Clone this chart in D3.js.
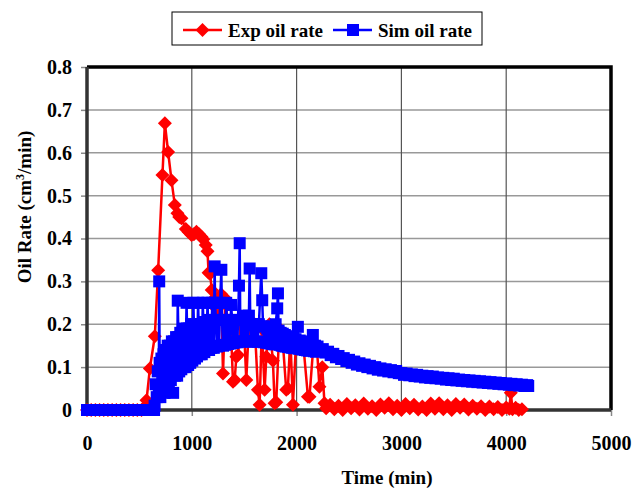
<!DOCTYPE html>
<html>
<head>
<meta charset="utf-8">
<script src="https://cdn.jsdelivr.net/npm/d3@7"></script>
<style>
body {margin:0; background:#fff;}
text {font-family:"Liberation Serif","Times New Roman",serif; font-weight:bold; fill:#000;}
</style>
</head>
<body>
<div id="chart-area"></div>
<script>
// tick labels
var xTicks = [0, 1000, 2000, 3000, 4000, 5000];
var yTicks = [0, 0.1, 0.2, 0.3, 0.4, 0.5, 0.6, 0.7, 0.8];
var yTickLabels = ["0", "0.1", "0.2", "0.3", "0.4", "0.5", "0.6", "0.7", "0.8"];

// experiment (min, cm3/min)
var expTime = [0, 40, 80, 120, 160, 200, 240, 280, 320, 360, 400, 440, 480, 520, 545, 568, 600, 647,
	679, 720, 743, 774, 806, 838, 863, 880, 901, 943, 970, 997, 1020, 1044, 1070, 1092, 1110, 1133,
	1150, 1160, 1175, 1190, 1215, 1240, 1265, 1280, 1298, 1320, 1345, 1370, 1393, 1409, 1425, 1441,
	1465, 1495, 1520, 1545, 1570, 1600, 1631, 1647, 1668, 1695, 1711, 1740, 1774, 1790, 1806, 1835,
	1865, 1901, 1917, 1940, 1965, 1995, 2030, 2065, 2108, 2123, 2160, 2195, 2218, 2245, 2266, 2282,
	2320, 2360, 2400, 2440, 2480, 2520, 2560, 2600, 2640, 2680, 2720, 2760, 2800, 2840, 2880, 2920,
	2960, 3000, 3040, 3080, 3120, 3160, 3200, 3240, 3280, 3320, 3360, 3400, 3440, 3480, 3520, 3560,
	3600, 3640, 3680, 3720, 3760, 3800, 3840, 3880, 3920, 3960, 4000, 4030, 4044, 4060, 4090, 4120, 4150];
var expRate = [0, 0, 0, 0, 0, 0, 0, 0, 0, 0, 0, 0, 0, 0, 0.005, 0.023, 0.097, 0.172,
	0.326, 0.548, 0.669, 0.602, 0.536, 0.478, 0.459, 0.45, 0.447, 0.422, 0.415, 0.408, 0.41, 0.416, 0.41, 0.404, 0.398, 0.385,
	0.37, 0.32, 0.318, 0.28, 0.26, 0.235, 0.25, 0.27, 0.085, 0.26, 0.2, 0.21, 0.066, 0.07, 0.124, 0.128,
	0.2, 0.21, 0.07, 0.2, 0.18, 0.2, 0.047, 0.012, 0.19, 0.047, 0.124, 0.2, 0.115, 0.016, 0.018, 0.19,
	0.17, 0.047, 0.05, 0.17, 0.012, 0.16, 0.155, 0.15, 0.031, 0.031, 0.15, 0.14, 0.054, 0.1, 0.016, 0.004,
	0.012, 0.002, 0.01, 0, 0.014, 0.004, 0.011, 0.001, 0.015, 0.003, 0.009, 0, 0.013, 0.005, 0.016, 0.002,
	0.01, 0, 0.014, 0.004, 0.012, 0.001, 0.008, 0, 0.015, 0.003, 0.016, 0.002, 0.011, 0, 0.014, 0.005,
	0.013, 0.001, 0.01, 0.003, 0.009, 0, 0.008, 0.002, 0.007, 0, 0.006, 0.003, 0.04, 0.002, 0.005, 0, 0.002];

// simulation (min, cm3/min)
var simTime = [0, 40, 80, 120, 160, 200, 240, 280, 320, 360, 400, 440, 480, 520, 560, 600, 640,
	645, 655, 665, 675, 685, 689, 693, 700, 710, 720, 730, 740, 750, 760, 770, 780, 790, 800,
	810, 822, 830, 840, 850, 860, 866, 872, 880, 890, 900, 910, 920, 930, 940, 950, 955, 965,
	975, 985, 995, 1005, 1015, 1020, 1030, 1040, 1050, 1060, 1065, 1075, 1085, 1095, 1105, 1110,
	1120, 1130, 1140, 1150, 1155, 1165, 1175, 1185, 1195, 1200, 1210, 1218, 1222, 1230, 1240, 1250,
	1260, 1270, 1282, 1288, 1298, 1308, 1318, 1328, 1335, 1345, 1355, 1365, 1375, 1385, 1395, 1405,
	1415, 1425, 1435, 1450, 1457, 1462, 1472, 1482, 1492, 1502, 1512, 1522, 1532, 1545, 1552, 1558,
	1568, 1578, 1588, 1598, 1608, 1618, 1628, 1640, 1663, 1672, 1680, 1690, 1700, 1710, 1720, 1730,
	1740, 1750, 1760, 1770, 1780, 1790, 1800, 1815, 1822, 1828, 1838, 1848, 1858, 1868, 1878, 1888,
	1898, 1908, 1918, 1928, 1938, 1948, 1958, 1968, 1978, 1990, 2012, 2020, 2030, 2040, 2050, 2060,
	2070, 2080, 2090, 2100, 2110, 2120, 2130, 2155, 2165, 2175, 2185, 2200,
	2225, 2250, 2275, 2300, 2325, 2350, 2375, 2400, 2425, 2450, 2475, 2500, 2525, 2550, 2575, 2600,
	2625, 2650, 2675, 2700, 2725, 2750, 2775, 2800, 2825, 2850, 2875, 2900, 2925, 2950, 2975, 3000,
	3025, 3050, 3075, 3100, 3125, 3150, 3175, 3200, 3225, 3250, 3275, 3300, 3325, 3350, 3375, 3400,
	3425, 3450, 3475, 3500, 3525, 3550, 3575, 3600, 3625, 3650, 3675, 3700, 3725, 3750, 3775, 3800,
	3825, 3850, 3875, 3900, 3925, 3950, 3975, 4000, 4025, 4050, 4075, 4100, 4125, 4150, 4175, 4200, 4210];
var simRate = [0, 0, 0, 0, 0, 0, 0, 0, 0, 0, 0, 0, 0, 0, 0, 0, 0,
	0.01, 0.06, 0.03, 0.09, 0.04, 0.30, 0.11, 0.03, 0.12, 0.05, 0.13, 0.04, 0.14, 0.06, 0.15, 0.05, 0.15, 0.07,
	0.16, 0.04, 0.16, 0.08, 0.17, 0.08, 0.255, 0.17, 0.09, 0.18, 0.095, 0.18, 0.1, 0.19, 0.1, 0.25, 0.19, 0.105,
	0.19, 0.11, 0.2, 0.115, 0.25, 0.2, 0.12, 0.2, 0.125, 0.25, 0.2, 0.13, 0.2, 0.13, 0.25, 0.205,
	0.135, 0.205, 0.14, 0.25, 0.21, 0.14, 0.21, 0.145, 0.25, 0.21, 0.145, 0.335, 0.25, 0.21, 0.148, 0.21,
	0.15, 0.25, 0.327, 0.21, 0.15, 0.21, 0.152, 0.25, 0.21, 0.154, 0.21, 0.155, 0.245, 0.21, 0.156, 0.21,
	0.158, 0.21, 0.158, 0.29, 0.389, 0.21, 0.16, 0.21, 0.16, 0.22, 0.16, 0.205, 0.16, 0.22, 0.33, 0.2,
	0.16, 0.2, 0.16, 0.2, 0.16, 0.2, 0.159, 0.2, 0.319, 0.256, 0.195, 0.158, 0.195, 0.157, 0.19, 0.156,
	0.19, 0.155, 0.19, 0.154, 0.185, 0.153, 0.2, 0.237, 0.272, 0.185, 0.152, 0.18, 0.15, 0.178, 0.149, 0.175,
	0.148, 0.172, 0.147, 0.17, 0.146, 0.168, 0.145, 0.166, 0.144, 0.165, 0.194, 0.143, 0.162, 0.142, 0.16, 0.141,
	0.158, 0.14, 0.156, 0.139, 0.155, 0.138, 0.153, 0.175, 0.137, 0.15, 0.136, 0.148,
	0.138, 0.142, 0.134, 0.136, 0.128, 0.131, 0.123, 0.126, 0.119, 0.121, 0.114, 0.117, 0.11, 0.113, 0.106, 0.109,
	0.103, 0.106, 0.1, 0.103, 0.097, 0.1, 0.094, 0.097, 0.092, 0.095, 0.09, 0.093, 0.088, 0.091, 0.086, 0.086,
	0.082, 0.085, 0.081, 0.083, 0.079, 0.082, 0.078, 0.08, 0.076, 0.079, 0.075, 0.078, 0.074, 0.076, 0.073, 0.075,
	0.071, 0.074, 0.07, 0.073, 0.069, 0.071, 0.068, 0.07, 0.067, 0.069, 0.066, 0.068, 0.065, 0.067, 0.064, 0.066,
	0.063, 0.065, 0.062, 0.064, 0.061, 0.063, 0.06, 0.062, 0.059, 0.061, 0.058, 0.06, 0.057, 0.059, 0.056, 0.058, 0.056];

var expData = expTime.map((t, i) => ({t: t, v: expRate[i]}));
var simData = simTime.map((t, i) => ({t: t, v: simRate[i]}));

//sizes
var margin = {left:87, right:22, top:67, bottom:81},
	width = 633 - margin.left - margin.right,
	height = 491 - margin.top - margin.bottom;

var svg = d3.select("#chart-area")
	.append("svg")
		.attr("width", width + margin.left + margin.right)
		.attr("height", height + margin.top + margin.bottom);
var g = svg.append("g")
		.attr("transform", "translate(" + margin.left + "," + margin.top + ")");

//scales
var x = d3.scaleLinear().domain([0, 5000]).range([0, width]);
var y = d3.scaleLinear().domain([0, 0.8]).range([height, 0]);

//grid
g.append("g").selectAll("line")
	.data(yTicks.slice(1, -1))
	.enter().append("line")
		.attr("x1", 0).attr("x2", width)
		.attr("y1", d => y(d)).attr("y2", d => y(d))
		.attr("stroke", "#999").attr("stroke-width", 1.5);
g.append("g").selectAll("line")
	.data(xTicks.slice(1, -1))
	.enter().append("line")
		.attr("x1", d => x(d)).attr("x2", d => x(d))
		.attr("y1", 0).attr("y2", height)
		.attr("stroke", "#555").attr("stroke-width", 1.2);

//axes
var yAxis = g.append("g")
	.call(d3.axisLeft(y).tickValues(yTicks).tickSize(6).tickPadding(9)
		.tickFormat((d, i) => yTickLabels[i]));
var xAxis = g.append("g")
	.attr("transform", "translate(0," + height + ")")
	.call(d3.axisBottom(x).tickValues(xTicks).tickSize(6).tickPadding(20)
		.tickFormat(d3.format("d")));
[xAxis, yAxis].forEach(a => {
	a.select(".domain").remove();
	a.selectAll("line").attr("stroke", "#888").attr("stroke-width", 1.5);
	a.selectAll("text").style("font-size", "20px")
		.style("font-family", "'Liberation Serif', serif").style("font-weight", "bold");
});

//frame
g.append("path")
	.attr("d", "M0,0H" + width + "V" + height)
	.attr("fill", "none").attr("stroke", "#000").attr("stroke-width", 3.5);
g.append("path")
	.attr("d", "M0,0V" + height + "H" + width)
	.attr("fill", "none").attr("stroke", "#333").attr("stroke-width", 3.5);

//series
var line = d3.line().x(d => x(d.t)).y(d => y(d.v));
var diamond = "M0,-7L7,0L0,7L-7,0Z";

g.append("path")
	.attr("fill", "none").attr("stroke", "#ff0000").attr("stroke-width", 2.5)
	.attr("d", line(expData));
g.append("g").selectAll("path")
	.data(expData)
	.enter().append("path")
		.attr("d", diamond)
		.attr("fill", "#ff0000")
		.attr("transform", d => "translate(" + x(d.t) + "," + y(d.v) + ")");

g.append("path")
	.attr("fill", "none").attr("stroke", "#0000ff").attr("stroke-width", 2.5)
	.attr("d", line(simData));
g.append("g").selectAll("rect")
	.data(simData)
	.enter().append("rect")
		.attr("x", d => x(d.t) - 6)
		.attr("y", d => y(d.v) - 6)
		.attr("width", 12).attr("height", 12)
		.attr("fill", "#0000ff");

//axis titles
svg.append("text")
	.attr("x", 387).attr("y", 484)
	.attr("text-anchor", "middle")
	.style("font-size", "19px")
	.text("Time (min)");
var yl = svg.append("text")
	.attr("transform", "translate(31,207) rotate(-90)")
	.attr("text-anchor", "middle")
	.style("font-size", "19px");
yl.append("tspan").text("Oil Rate (cm");
yl.append("tspan").attr("dy", "-7").style("font-size", "12px").text("3");
yl.append("tspan").attr("dy", "7").text("/min)");

//legend
var legend = svg.append("g").attr("transform", "translate(172,12)");
legend.append("rect")
	.attr("width", 310).attr("height", 33)
	.attr("fill", "#fff").attr("stroke", "#000").attr("stroke-width", 1);
var items = [
	{name: "Exp oil rate", color: "#ff0000", shape: "d", x: 11},
	{name: "Sim oil rate", color: "#0000ff", shape: "s", x: 161}
];
items.forEach(it => {
	var li = legend.append("g").attr("transform", "translate(" + it.x + ",18)");
	li.append("line").attr("x1", 0).attr("x2", 39)
		.attr("stroke", it.color).attr("stroke-width", 2.5);
	if (it.shape == "d") {
		li.append("path").attr("d", diamond).attr("fill", it.color)
			.attr("transform", "translate(19.5,0)");
	} else {
		li.append("rect").attr("x", 14).attr("y", -6).attr("width", 12).attr("height", 12)
			.attr("fill", it.color);
	}
	li.append("text").attr("x", 45).attr("y", 6.5)
		.style("font-size", "19px").text(it.name);
});
</script>
</body>
</html>
